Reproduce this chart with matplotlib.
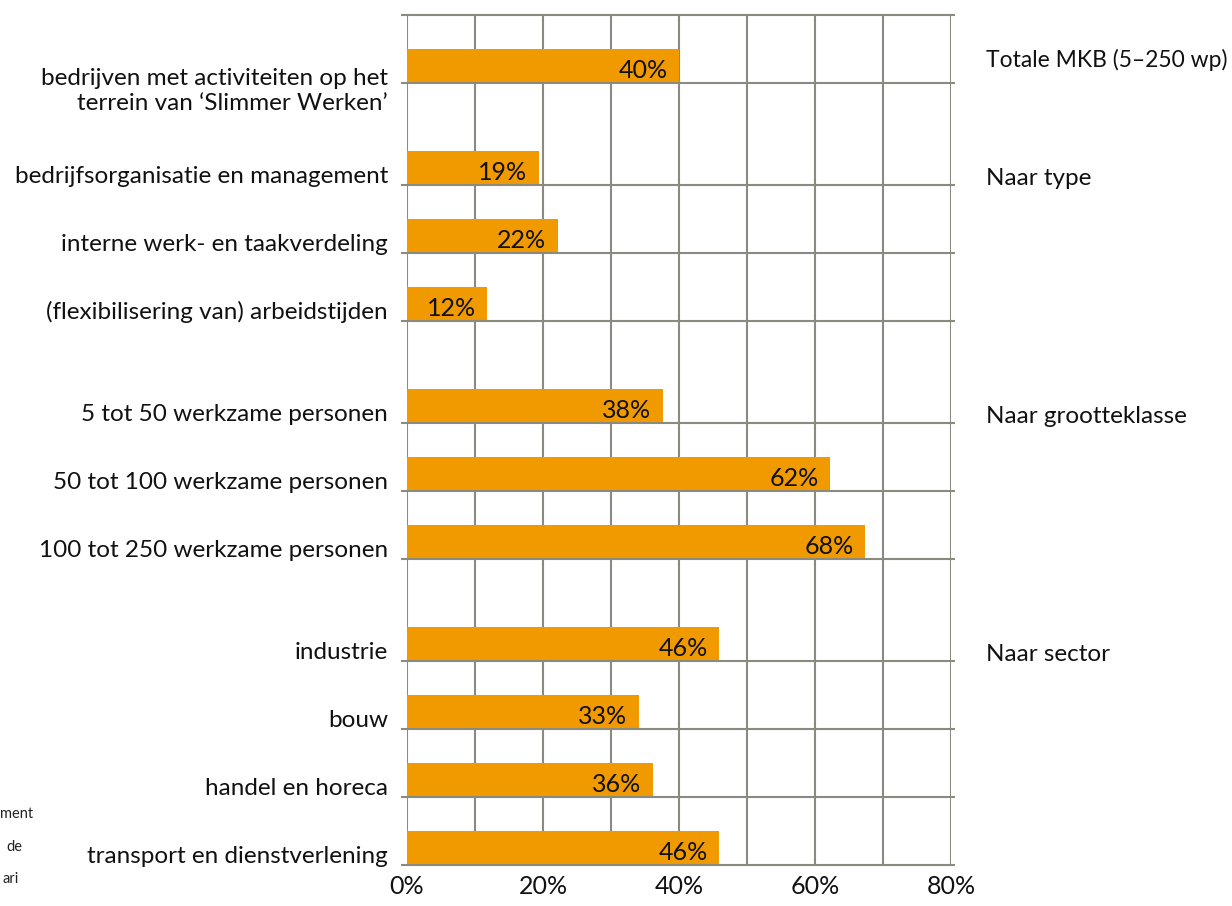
import numpy as np
import matplotlib.pyplot as plt

# groups top to bottom
group_names = ["Totale MKB (5\u2013250 wp)", "Naar type", "Naar grootteklasse", "Naar sector"]
group_labels = [
    ["bedrijven met activiteiten op het\nterrein van \u2018Slimmer Werken\u2019"],
    ["bedrijfsorganisatie en management",
     "interne werk- en taakverdeling",
     "(flexibilisering van) arbeidstijden"],
    ["5 tot 50 werkzame personen",
     "50 tot 100 werkzame personen",
     "100 tot 250 werkzame personen"],
    ["industrie", "bouw", "handel en horeca", "transport en dienstverlening"],
]
# bar lengths as drawn, and the printed labels
group_values = [
    [40.0],
    [19.4, 22.2, 11.8],
    [37.6, 62.2, 67.4],
    [45.9, 34.1, 36.2, 45.9],
]
group_texts = [
    ["40%"],
    ["19%", "22%", "12%"],
    ["38%", "62%", "68%"],
    ["46%", "33%", "36%", "46%"],
]
xticks = [0, 20, 40, 60, 80]
xtick_labels = ["0%", "20%", "40%", "60%", "80%"]

orange = "#F09A00"
grid = "#8A8A7E"
plt.rcParams['font.family'] = ['Lato', 'DejaVu Sans']

fig = plt.figure(figsize=(12.32, 9.06), dpi=100)
ax = fig.add_axes([407/1232, 1-865/906, 544/1232, 850/906])

# positions, bottom-up, with a gap of 0.5 between groups
pos = []
y = 0.0
for g in reversed(range(len(group_labels))):
    n = len(group_labels[g])
    ys = [y + (n - 1 - i) for i in range(n)]
    pos.insert(0, ys)
    y += n + 0.5
top = pos[0][0] + 1

ax.set_xlim(0, 80)
ax.set_ylim(0, top)

for x in range(0, 81, 10):
    ax.axvline(x, color=grid, lw=1.5, zorder=1)

all_lines = [top]
for g in range(len(group_labels)):
    for i, lab in enumerate(group_labels[g]):
        yb = pos[g][i]
        all_lines.append(yb)
        v = group_values[g][i]
        ax.barh(yb, v, height=0.5, align='edge', color=orange, zorder=2)
        ax.text(v - 1.7, yb + 0.08, group_texts[g][i], ha='right', va='baseline',
                fontsize=18, color='#111111', zorder=4)
        if "\n" in lab:
            ax.text(-2.8, yb - 0.12, lab, ha='right', va='center', fontsize=17.5,
                    color='#111111', linespacing=1.25)
        else:
            ax.text(-2.8, yb + 0.03, lab, ha='right', va='baseline', fontsize=17.5,
                    color='#111111')
    off = 0.24 if g == 0 else 0.0
    ax.text(85.2, pos[g][0] + off, group_names[g], ha='left', va='baseline',
            fontsize=16.5 if g == 0 else 17.5, color='#111111')

for yl in all_lines:
    ax.plot([-0.9, 80.6], [yl, yl], color=grid, lw=1.5, zorder=3, clip_on=False,
            solid_capstyle='butt')

for s in ax.spines.values():
    s.set_visible(False)
ax.set_yticks([])
ax.set_xticks(xticks)
ax.set_xticklabels(xtick_labels, fontsize=18, color='#111111')
ax.tick_params(axis='x', length=0, pad=7)

# cropped note at the left edge
fig.text(33/1232, 1-818/906, "ment", ha='right', va='baseline', fontsize=10.5, color='#222222')
fig.text(22/1232, 1-851/906, "de", ha='right', va='baseline', fontsize=10.5, color='#222222')
fig.text(19/1232, 1-883/906, "ari", ha='right', va='baseline', fontsize=10.5, color='#222222')

fig.savefig("out.png", dpi=100)
